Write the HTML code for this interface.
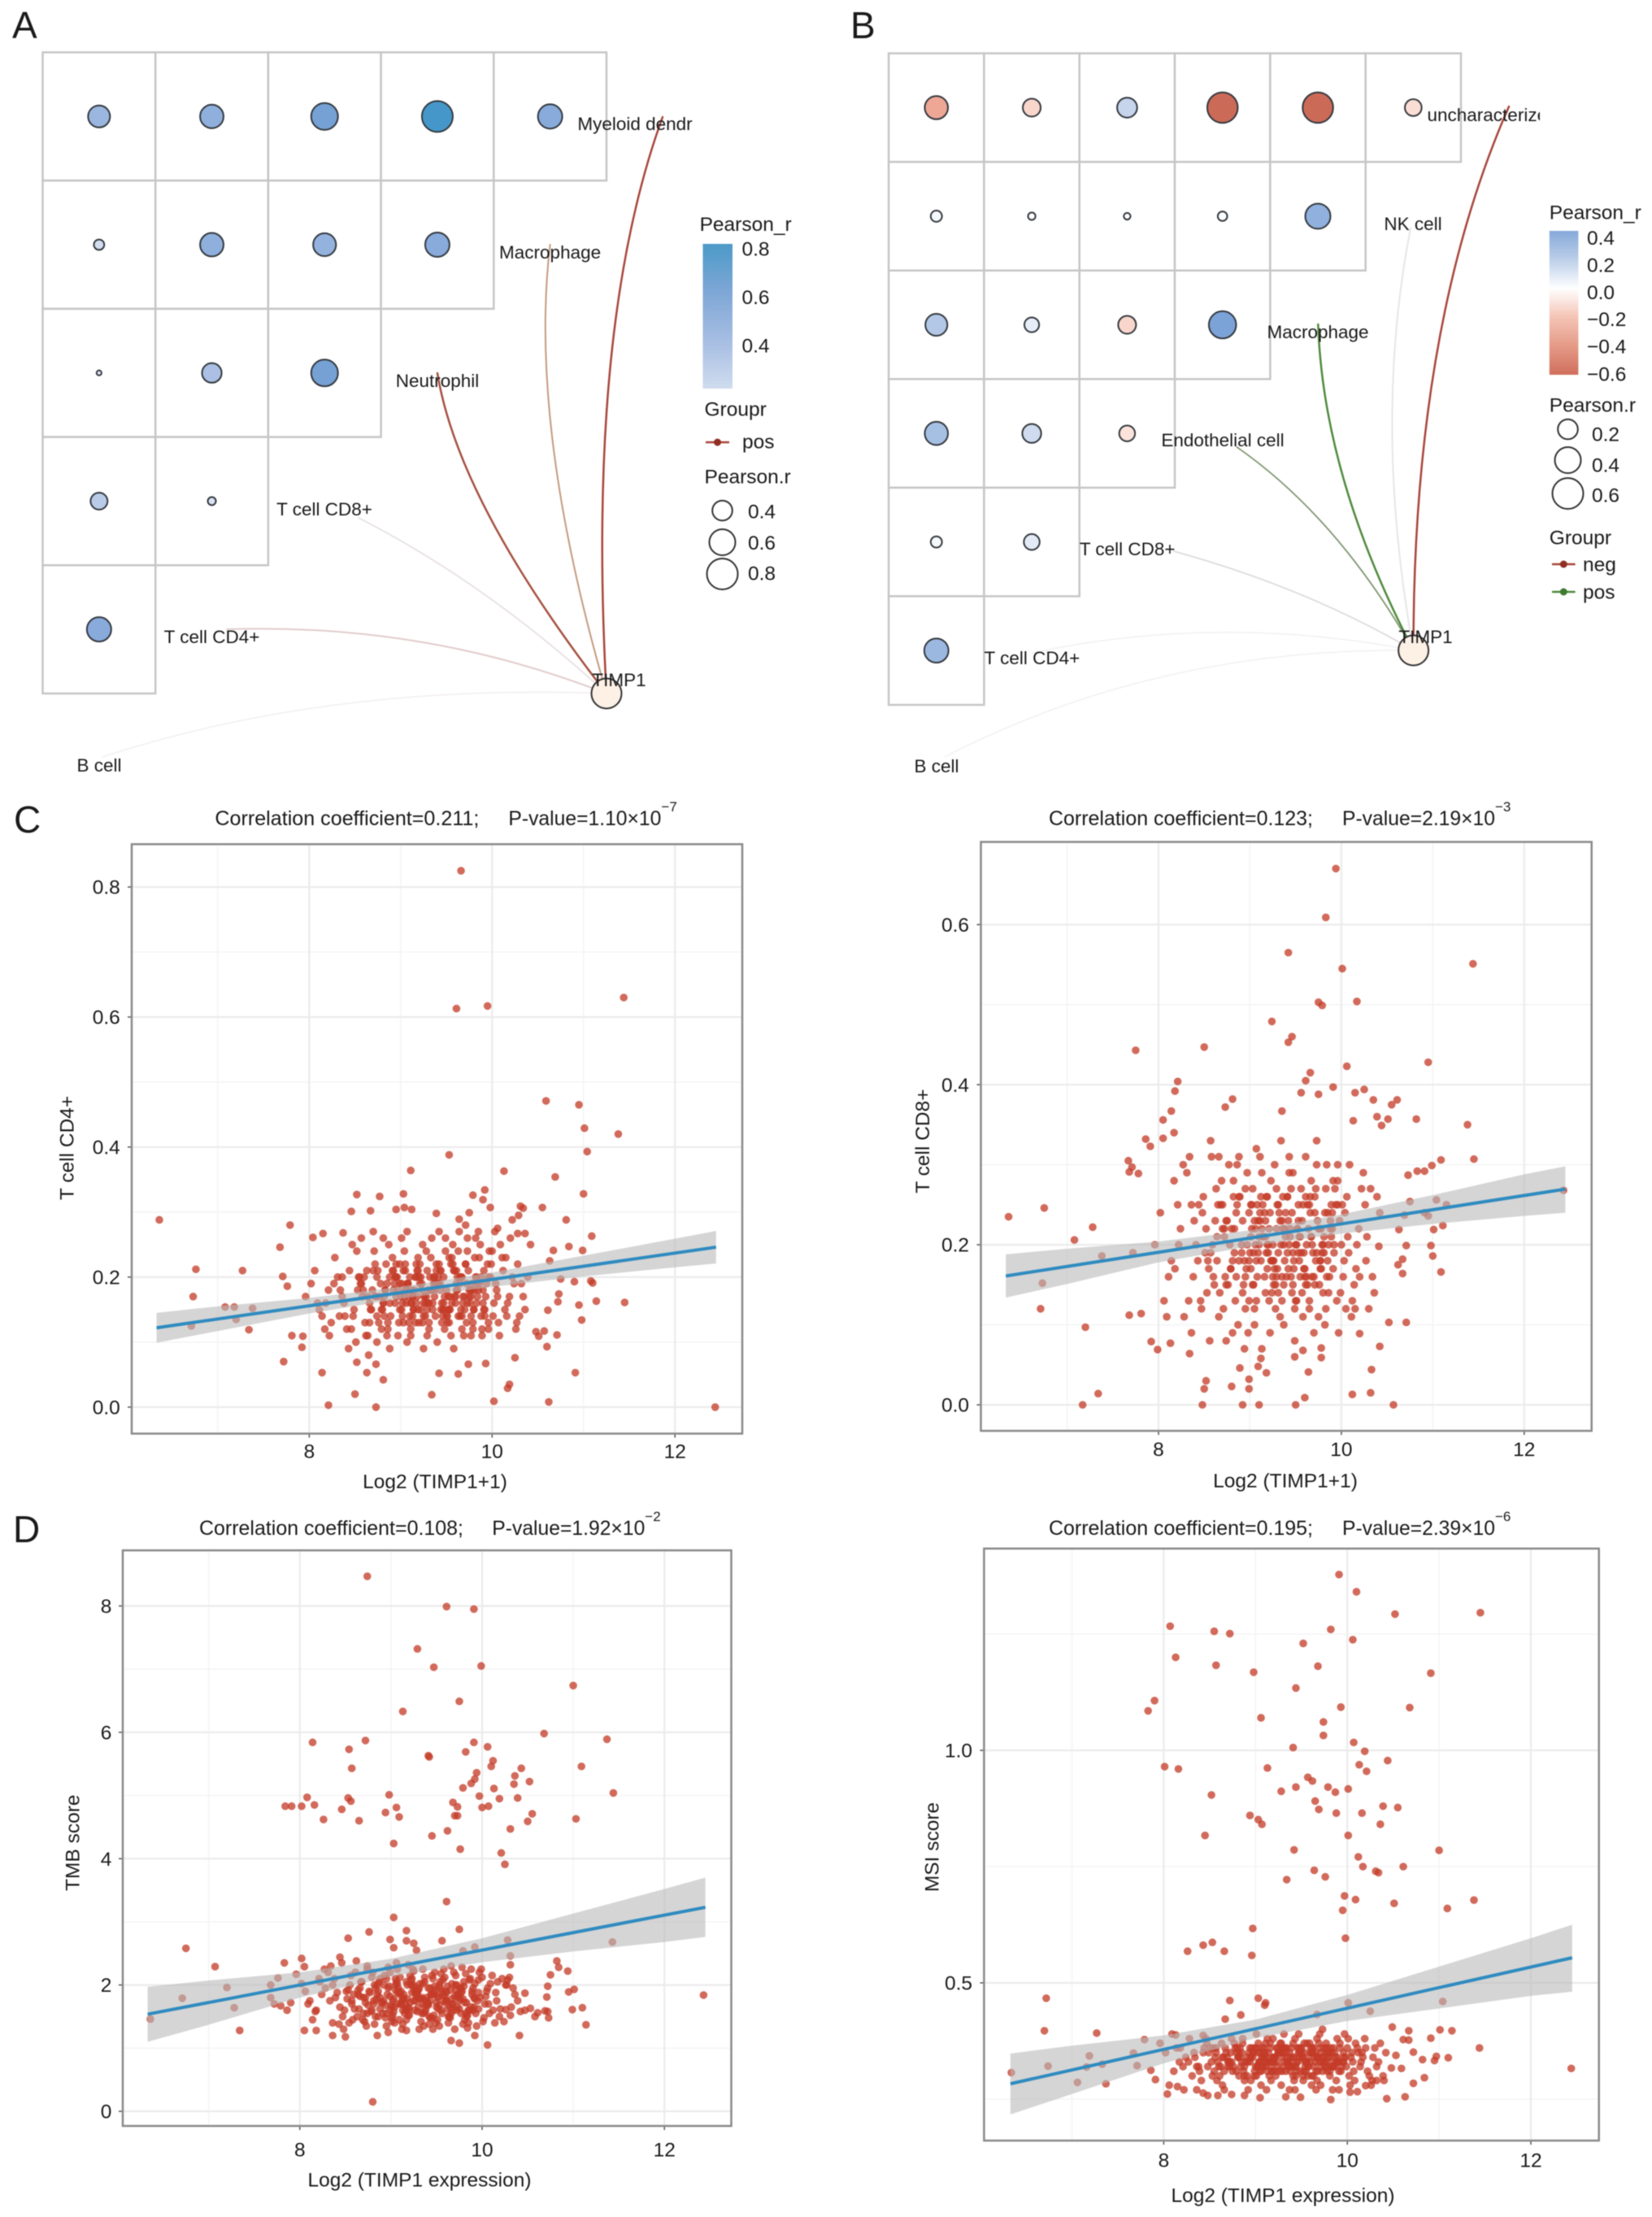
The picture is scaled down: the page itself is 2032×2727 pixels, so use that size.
<!DOCTYPE html>
<html lang="en">
<head>
<meta charset="utf-8">
<title>TIMP1 immune correlation figure</title>
<style>
html,body{margin:0;padding:0;background:#fff;width:2032px;height:2727px;overflow:hidden}
svg{display:block;filter:blur(.5px)}
text{font-family:"Liberation Sans",Arial,sans-serif;fill:#1a1a1a}
</style>
</head>
<body>
<svg id="figure" xmlns="http://www.w3.org/2000/svg" width="2032" height="2727" viewBox="0 0 2032 2727">
<defs>
<linearGradient id="gradA" x1="0" y1="0" x2="0" y2="1"><stop offset="0" stop-color="#4c9ac8"/><stop offset=".33" stop-color="#7ea7d6"/><stop offset=".66" stop-color="#a5bde2"/><stop offset="1" stop-color="#cfdcef"/></linearGradient>
<linearGradient id="gradB" x1="0" y1="0" x2="0" y2="1"><stop offset="0" stop-color="#86a9d9"/><stop offset=".2" stop-color="#bccfe9"/><stop offset=".4" stop-color="#ffffff"/><stop offset=".6" stop-color="#f4c4b5"/><stop offset=".8" stop-color="#e59a87"/><stop offset="1" stop-color="#d06f5d"/></linearGradient>
<clipPath id="clipB"><rect x="1016" y="0" width="878" height="980"/></clipPath>
</defs>
<rect width="2032" height="2727" fill="#fff"/>
<g font-size="46">
<text x="15" y="47">A</text>
<text x="1046" y="47">B</text>
<text x="17" y="1024">C</text>
<text x="16" y="1897">D</text>
</g>
<g id="linksA" fill="none" stroke-linecap="round">
<path d="M746 853Q406 840 126 931" stroke="#f3eeee" stroke-width="1.5"/>
<path d="M746 853Q524 766 279 774" stroke="#e3cccc" stroke-width="2"/>
<path d="M746 853Q598 717 441 637" stroke="#e8e0e2" stroke-width="1.8"/>
<path d="M746 853Q564 618 538 459" stroke="#a5503f" stroke-width="2.5"/>
<path d="M746 853Q650 523 676.6 301" stroke="#c49a7e" stroke-width="2"/>
<path d="M746 853Q721 402 815 144" stroke="#a8453a" stroke-width="2.5"/>
</g>
<g id="linksB" fill="none" stroke-linecap="round">
<path d="M1738.6 800Q1424 796 1162 931" stroke="#f1f1f1" stroke-width="1.5"/>
<path d="M1738.6 800Q1500 754 1269.4 803" stroke="#f1f1f1" stroke-width="1.5"/>
<path d="M1738.6 800Q1607 723 1443.7 678" stroke="#dcdcdc" stroke-width="1.8"/>
<path d="M1738.6 800Q1646 637 1521.5 550" stroke="#7f9670" stroke-width="1.8"/>
<path d="M1738.6 800Q1688 521 1735 281" stroke="#e6e6e6" stroke-width="2"/>
<path d="M1738.6 800Q1628 588 1621.3 399" stroke="#4e8a3c" stroke-width="2.5"/>
<path d="M1738.6 800Q1738 400 1856 131" stroke="#a8453a" stroke-width="2.5"/>
</g>
<g id="panelA"></g>
<g id="panelB"></g>
<g id="charts"></g>
<g font-size="24.5" dy=".35em">
<text x="781" y="152" dy=".35em" text-anchor="middle" font-size="22.5">Myeloid dendr</text>
<text x="676.6" y="310" dy=".35em" text-anchor="middle" font-size="22.5">Macrophage</text>
<text x="538" y="468" dy=".35em" text-anchor="middle" font-size="22.5">Neutrophil</text>
<text x="399" y="626" dy=".35em" text-anchor="middle" font-size="22.5">T cell CD8+</text>
<text x="260.5" y="783" dy=".35em" text-anchor="middle" font-size="22.5">T cell CD4+</text>
<text x="122" y="941" dy=".35em" text-anchor="middle" font-size="22.5">B cell</text>
<circle cx="746" cy="853" r="18.5" fill="#fdf1e6" stroke="#333" stroke-width="2"/>
<text x="761.5" y="836" dy=".35em" text-anchor="middle" font-size="22.5">TIMP1</text>
<g clip-path="url(#clipB)">
<text x="1755.5" y="141" dy=".35em" font-size="22.5">uncharacterized</text>
</g>
<text x="1738" y="275" dy=".35em" text-anchor="middle" font-size="22.5">NK cell</text>
<text x="1621" y="408" dy=".35em" text-anchor="middle" font-size="22.5">Macrophage</text>
<text x="1504" y="541" dy=".35em" text-anchor="middle" font-size="22.5">Endothelial cell</text>
<text x="1386.7" y="675" dy=".35em" text-anchor="middle" font-size="22.5">T cell CD8+</text>
<text x="1269.4" y="809" dy=".35em" text-anchor="middle" font-size="22.5">T cell CD4+</text>
<text x="1152" y="942" dy=".35em" text-anchor="middle" font-size="22.5">B cell</text>
<circle cx="1738.6" cy="800" r="18.5" fill="#fdf1e6" stroke="#333" stroke-width="2"/>
<text x="1753.5" y="783" dy=".35em" text-anchor="middle" font-size="22.5">TIMP1</text>
</g>
<g id="legendA" font-size="24.5">
<text x="860.6" y="275.6" dy=".35em">Pearson_r</text>
<rect x="864.5" y="300" width="36.5" height="178" fill="url(#gradA)"/>
<text x="912.5" y="306" dy=".35em">0.8</text>
<text x="912.5" y="365.6" dy=".35em">0.6</text>
<text x="912.5" y="425" dy=".35em">0.4</text>
<text x="866.5" y="503" dy=".35em">Groupr</text>
<line x1="868" y1="544" x2="897" y2="544" stroke="#a8453a" stroke-width="2.5"/>
<circle cx="882.5" cy="544" r="4.5" fill="#8f2f22"/>
<text x="913" y="543" dy=".35em">pos</text>
<text x="866.5" y="586" dy=".35em">Pearson.r</text>
<circle cx="888.5" cy="628" r="12.3" fill="#fff" stroke="#333" stroke-width="2"/>
<circle cx="888.5" cy="667" r="16" fill="#fff" stroke="#333" stroke-width="2"/>
<circle cx="888.5" cy="706" r="19" fill="#fff" stroke="#333" stroke-width="2"/>
<text x="920" y="629" dy=".35em">0.4</text>
<text x="920" y="667.5" dy=".35em">0.6</text>
<text x="920" y="705" dy=".35em">0.8</text>
</g>
<g id="legendB" font-size="24.5">
<text x="1905.8" y="261" dy=".35em">Pearson_r</text>
<rect x="1905.8" y="284" width="35.6" height="177" fill="url(#gradB)"/>
<text x="1952" y="292.5" dy=".35em">0.4</text>
<text x="1952" y="326" dy=".35em">0.2</text>
<text x="1952" y="359.4" dy=".35em">0.0</text>
<text x="1952" y="392.5" dy=".35em">−0.2</text>
<text x="1952" y="426" dy=".35em">−0.4</text>
<text x="1952" y="460" dy=".35em">−0.6</text>
<text x="1905.8" y="498" dy=".35em">Pearson.r</text>
<circle cx="1928.5" cy="528" r="12.3" fill="#fff" stroke="#333" stroke-width="2"/>
<circle cx="1928.5" cy="566" r="16" fill="#fff" stroke="#333" stroke-width="2"/>
<circle cx="1928.5" cy="607" r="19" fill="#fff" stroke="#333" stroke-width="2"/>
<text x="1958" y="534" dy=".35em">0.2</text>
<text x="1958" y="572" dy=".35em">0.4</text>
<text x="1958" y="609" dy=".35em">0.6</text>
<text x="1905.8" y="661" dy=".35em">Groupr</text>
<line x1="1909" y1="694" x2="1937.6" y2="694" stroke="#a8453a" stroke-width="2.5"/>
<circle cx="1923.3" cy="694" r="4.5" fill="#8f2f22"/>
<text x="1947" y="694" dy=".35em">neg</text>
<line x1="1909" y1="728" x2="1937.6" y2="728" stroke="#4e8a3c" stroke-width="2.5"/>
<circle cx="1923.3" cy="728" r="4.5" fill="#3f7a2f"/>
<text x="1947" y="728" dy=".35em">pos</text>
</g>
</svg>
<script>
// ---------- correlogram values ----------
const correlogramARows = [
  [.46,.51,.63,.80,.54],
  [.19,.51,.49,.54],
  [.13,.39,.63],
  [.32,.16],
  [.54]
];
const correlogramBRows = [
  [-.30,-.145,.2,-.6,-.6,-.12],
  [.03,.003,.001,.014,.37],
  [.26,.08,-.145,.455],
  [.30,.17,-.1],
  [.03,.1],
  [.335]
];
// ---------- shared x axis ticks ----------
const expressionTicks = [8,10,12];
const expressionMinorTicks = [7,9,11];
const cd4Ticks = [0,.2,.4,.6,.8];
const cd4MinorTicks = [.1,.3,.5,.7];
const cd8Ticks = [0,.2,.4,.6];
const cd8MinorTicks = [.1,.3,.5];
const tmbTicks = [0,2,4,6,8];
const tmbMinorTicks = [1,3,5,7];
const msiTicks = [.5,1];
const msiMinorTicks = [.25,.75,1.25];
// ---------- main-cloud TIMP1 expression, shared by the four scatter panels ----------
const coreExpression = [
8.02,8.11,7.96,8.17,8.06,8.14,8.21,8.09,
8.24,8.31,8.18,8.28,8.36,8.22,8.33,8.27,
8.38,8.44,8.41,8.34,8.47,8.39,8.43,8.36,
8.49,8.55,8.52,8.46,8.58,8.51,8.56,8.48,
8.59,8.63,8.61,8.57,8.66,8.62,8.54,8.65,
8.67,8.72,8.69,8.64,8.74,8.7,8.66,8.73,
8.75,8.79,8.77,8.71,8.82,8.78,8.74,8.81,
8.83,8.86,8.84,8.8,8.88,8.85,8.82,8.87,
8.89,8.93,8.91,8.86,8.95,8.92,8.88,8.94,
8.96,8.99,8.97,8.92,9.01,8.98,8.95,9.0,
9.02,9.05,9.03,8.99,9.07,9.04,9.01,9.06,
9.08,9.11,9.09,9.05,9.13,9.1,9.07,9.12,
9.14,9.17,9.15,9.11,9.19,9.16,9.13,9.18,
9.2,9.23,9.21,9.17,9.25,9.22,9.19,9.24,
9.26,9.29,9.27,9.23,9.31,9.28,9.25,9.3,
9.32,9.35,9.33,9.29,9.37,9.34,9.31,9.36,
9.38,9.41,9.39,9.35,9.43,9.4,9.37,9.42,
9.44,9.47,9.45,9.41,9.49,9.46,9.43,9.48,
9.5,9.53,9.51,9.47,9.55,9.52,9.49,9.54,
9.56,9.59,9.57,9.53,9.61,9.58,9.55,9.6,
9.62,9.65,9.63,9.59,9.67,9.64,9.61,9.66,
9.68,9.71,9.69,9.65,9.73,9.7,9.67,9.72,
9.74,9.77,9.75,9.71,9.79,9.76,9.73,9.78,
9.8,9.83,9.81,9.77,9.85,9.82,9.79,9.84,
9.86,9.89,9.87,9.83,9.91,9.88,9.85,9.9,
9.92,9.95,9.93,9.89,9.97,9.94,9.91,9.96,
9.98,10.02,10.0,9.96,10.05,10.01,9.99,10.03,
10.06,10.11,10.08,10.04,10.14,10.09,10.07,10.12,
10.16,10.22,10.19,10.15,10.26,10.2,10.17,10.24,
10.28,10.36,10.32,10.27,10.42,10.34,10.3,10.39,
8.72,8.79,8.85,8.91,8.76,8.83,8.88,8.94,
8.97,9.02,8.95,9.06,8.99,9.04,9.09,9.01,
9.11,9.07,9.14,9.03,9.18,9.1,9.16,9.05,
9.2,9.13,9.24,9.08,9.27,9.17,9.22,9.12,
9.29,9.19,9.33,9.25,9.36,9.28,9.21,9.31,
9.38,9.3,9.42,9.34,9.46,9.39,9.26,9.44,
9.48,9.37,9.52,9.41,9.56,9.45,9.35,9.5,
9.58,9.47,9.62,9.54,9.66,9.51,9.43,9.6,
9.68,9.57,9.72,9.63,9.76,9.65,9.53,9.7,
9.78,9.67,9.82,9.73,9.86,9.75,9.61,9.8,
9.88,9.77,9.92,9.84,9.96,9.81,9.71,9.9,
8.64,8.6,8.68,8.57,8.74,8.53,8.81,8.7];
// ---------- panel C left: T cell CD4+ ----------
const cd4CoreValues = [
.19,.15,.17,.12,.21,.14,.18,.16,
.13,.2,.16,.23,.17,.11,.14,.19,
.16,.21,.12,.18,.25,.14,.09,.2,
.15,.2,.24,.12,.17,.1,.19,.14,
.18,.21,.13,.26,.16,.11,.2,.08,
.15,.22,.18,.11,.2,.27,.13,.17,
.21,.12,.17,.24,.14,.19,.1,.16,
.18,.13,.22,.15,.2,.11,.17,.25,
.14,.19,.23,.12,.17,.21,.09,.16,
.2,.15,.11,.18,.26,.13,.22,.17,
.16,.21,.13,.19,.1,.24,.15,.18,
.19,.12,.17,.22,.14,.2,.27,.16,
.15,.2,.18,.11,.23,.13,.17,.21,
.13,.18,.22,.16,.09,.2,.15,.25,
.17,.21,.14,.19,.12,.24,.16,.18,
.2,.15,.23,.11,.17,.26,.13,.19,
.14,.19,.22,.16,.21,.1,.18,.27,
.21,.16,.13,.2,.24,.15,.18,.12,
.18,.23,.14,.2,.11,.17,.26,.15,
.16,.21,.25,.13,.19,.09,.22,.17,
.2,.14,.24,.17,.12,.27,.18,.15,
.17,.22,.11,.19,.26,.15,.2,.13,
.21,.14,.18,.28,.12,.16,.24,.19,
.15,.2,.23,.11,.18,.26,.13,.17,
.19,.12,.25,.16,.21,.14,.27,.18,
.14,.22,.17,.11,.24,.19,.15,.2,
.2,.16,.24,.12,.18,.14,.22,.27,
.17,.23,.11,.19,.15,.25,.13,.21,
.14,.2,.17,.23,.12,.26,.16,.19,
.22,.15,.19,.13,.25,.17,.14,.2,
.17,.15,.19,.21,.13,.18,.16,.2,
.18,.14,.2,.16,.22,.17,.13,.19,
.16,.19,.15,.21,.17,.14,.2,.18,
.2,.17,.13,.19,.16,.22,.15,.18,
.15,.21,.18,.14,.2,.17,.19,.16,
.19,.16,.22,.18,.14,.21,.17,.15,
.17,.2,.15,.19,.23,.16,.18,.14,
.21,.15,.18,.17,.2,.13,.19,.16,
.16,.22,.19,.14,.18,.2,.15,.17,
.18,.14,.2,.16,.23,.17,.21,.15,
.2,.17,.15,.19,.13,.18,.22,.16,
.17,.2,.15,.19,.14,.18,.16,.21];
const cd4OuterX = [9.66,9.61,9.95,11.44,10.59,10.95,11.01,11.38,11.04,9.53,9.11,10.13,10.69,8.52,8.77,9.03,9.79,9.92,9.9,11.0,6.36,7.79,8.46,8.67,8.95,9.04,9.12,9.39,9.64,9.75,9.98,10.31,10.34,10.55,10.81,6.76,7.27,6.73,7.08,7.18,7.38,7.2,6.71,7.34,7.68,8.04,8.15,8.37,8.81,7.71,7.76,7.72,7.93,7.81,7.92,8.14,8.21,8.73,8.5,8.81,8.63,8.73,8.52,9.34,9.42,9.63,9.74,9.93,10.02,10.19,10.17,10.25,10.62,10.91,12.44,11.45,11.14,10.98,10.95,11.1,11.08,10.9,11.09,10.84,10.99,10.67,10.63,10.75,10.73,10.72,10.61,10.71,10.6,10.57,10.48,10.51,10.36,10.28,10.22,10.29,10.06];
const cd4OuterY = [.825,.613,.617,.63,.471,.465,.429,.42,.393,.388,.364,.363,.354,.327,.324,.328,.326,.334,.319,.328,.288,.28,.301,.302,.304,.307,.304,.298,.289,.299,.307,.309,.306,.307,.288,.212,.21,.17,.154,.154,.152,.135,.125,.119,.246,.261,.267,.268,.26,.201,.186,.07,.109,.11,.092,.053,.003,0,.02,.042,.053,.066,.069,.019,.052,.051,.066,.067,.009,.035,.029,.076,.008,.053,0,.161,.163,.134,.157,.191,.194,.193,.263,.247,.241,.241,.225,.197,.174,.162,.149,.111,.093,.117,.116,.109,.267,.267,.288,.295,.275];
const cd4BandX = [6.33,7,8,9,10,11,12,12.45];
const cd4BandUpper = [.145,.155,.168,.185,.207,.233,.259,.271];
const cd4BandLower = [.099,.117,.144,.167,.185,.201,.215,.221];
const cd4FitX = [6.33,12.45];
const cd4FitY = [.122,.246];
// ---------- panel C right: T cell CD8+ ----------
const cd8CoreValues = [
.24,.16,.2,.28,.13,.18,.25,.11,
.22,.29,.17,.11,.25,.2,.13,.3,
.16,.25,.2,.31,.12,.23,.18,.09,
.26,.17,.22,.13,.31,.19,.08,.24,
.2,.27,.15,.33,.11,.23,.18,.25,
.14,.22,.28,.18,.08,.25,.31,.16,
.23,.17,.3,.12,.26,.2,.15,.09,
.19,.25,.13,.22,.31,.16,.28,.1,
.26,.15,.2,.3,.12,.23,.18,.07,
.17,.24,.29,.14,.21,.09,.27,.19,
.22,.12,.27,.18,.32,.15,.25,.2,
.16,.23,.19,.1,.29,.21,.13,.26,
.25,.14,.21,.31,.17,.24,.07,.19,
.2,.28,.13,.23,.16,.09,.26,.18,
.15,.22,.3,.18,.25,.12,.2,.17,
.24,.16,.11,.27,.2,.33,.14,.22,
.18,.26,.21,.13,.29,.16,.1,.23,
.22,.15,.27,.19,.12,.24,.31,.17,
.13,.25,.2,.29,.16,.22,.08,.18,
.27,.19,.14,.23,.31,.11,.21,.16,
.2,.12,.25,.17,.28,.22,.15,.26,
.16,.24,.19,.13,.3,.09,.21,.27,
.23,.18,.11,.26,.2,.15,.33,.22,
.14,.27,.21,.17,.24,.1,.19,.3,
.2,.25,.16,.12,.28,.22,.18,.24,
.19,.13,.27,.21,.09,.25,.17,.3,
.23,.16,.2,.28,.12,.25,.14,.18,
.26,.11,.19,.24,.15,.3,.21,.13,
.17,.27,.22,.12,.25,.16,.2,.29,
.21,.14,.27,.18,.24,.16,.12,.26,
.21,.17,.24,.19,.15,.22,.26,.18,
.2,.25,.16,.22,.13,.19,.23,.17,
.24,.18,.21,.15,.26,.2,.16,.23,
.19,.22,.14,.25,.17,.21,.24,.18,
.16,.2,.23,.18,.26,.15,.22,.19,
.22,.25,.17,.2,.14,.24,.18,.21,
.18,.15,.22,.26,.19,.16,.23,.2,
.25,.19,.16,.21,.24,.13,.2,.17,
.2,.23,.18,.15,.22,.25,.19,.16,
.17,.21,.24,.19,.14,.22,.26,.2,
.23,.18,.2,.16,.25,.19,.15,.22,
.21,.16,.25,.19,.23,.14,.18,.22];
const cd8OuterX = [9.94,9.83,9.42,10.01,11.44,9.75,9.79,10.17,9.24,9.46,9.42,8.5,7.75,10.95,10.06,9.66,9.61,8.21,8.18,9.75,9.91,9.56,10.15,10.25,10.35,10.61,8.81,8.73,8.14,9.35,10.55,10.82,10.39,10.51,10.13,10.44,11.38,8.05,7.86,8.05,8.17,7.91,7.67,7.71,7.68,7.78,11.45,11.09,10.99,10.91,10.83,10.73,6.36,6.75,7.28,7.08,7.38,7.72,6.73,6.71,7.2,7.34,7.17,7.68,7.81,7.92,7.99,8.13,8.34,8.48,8.5,8.52,8.8,8.92,9.1,8.99,8.99,8.89,9.12,9.09,9.18,9.5,9.6,9.64,9.49,9.58,9.78,9.78,10.12,10.32,10.57,10.33,10.42,10.2,10.52,10.71,11.09,11.0,10.98,11.01,11.11,10.95,10.91,11.15,11.04,12.43,10.71,10.67,10.62,10.67,10.41,10.63,10.75,10.69];
const cd8OuterY = [.67,.609,.565,.545,.551,.503,.499,.504,.479,.46,.453,.447,.443,.428,.423,.415,.405,.404,.392,.388,.397,.39,.39,.394,.381,.381,.382,.372,.367,.367,.375,.357,.36,.357,.355,.349,.35,.356,.332,.333,.34,.323,.305,.297,.291,.289,.307,.306,.299,.292,.292,.287,.235,.246,.222,.206,.186,.19,.152,.12,.097,.014,0,.112,.114,.079,.069,.077,.064,0,.02,.03,.023,0,0,.032,.02,.046,.058,.048,.04,0,.009,.041,.06,.068,.071,.059,.013,.015,0,.044,.073,.089,.103,.103,.166,.186,.199,.219,.224,.236,.24,.25,.256,.268,.199,.182,.175,.164,.198,.219,.254,.237];
const cd8BandX = [6.33,7,8,9,10,11,12,12.45];
const cd8BandUpper = [.188,.195,.204,.218,.238,.262,.288,.298];
const cd8BandLower = [.134,.151,.178,.198,.214,.226,.236,.24];
const cd8FitX = [6.33,12.45];
const cd8FitY = [.161,.2695];
// ---------- panel D left: TMB score ----------
const tmbCoreValues = [
2.02,1.75,2.17,1.58,1.9,1.45,2.1,1.7,
1.85,2.2,1.6,1.95,1.4,2.05,1.75,2.25,
2.1,1.65,1.88,2.3,1.5,1.8,1.38,2.0,
1.6,2.0,1.78,2.35,1.45,1.9,2.15,1.3,
1.85,1.5,2.2,1.7,1.95,2.38,1.4,1.62,
2.05,1.72,1.45,1.92,2.25,1.55,1.82,1.35,
1.68,2.12,1.88,1.42,2.0,1.58,2.3,1.75,
1.95,1.5,1.78,2.2,1.62,1.85,1.38,2.05,
1.72,2.15,1.55,1.9,1.35,2.0,1.8,1.48,
1.85,1.6,2.28,1.75,1.42,1.98,2.1,1.68,
1.52,2.0,1.78,2.2,1.88,1.4,1.65,2.35,
1.95,1.7,1.45,2.1,1.6,1.85,2.25,1.3,
1.78,2.05,1.55,1.9,2.32,1.68,1.38,2.0,
1.62,1.88,2.15,1.45,1.75,2.0,1.52,2.25,
1.9,1.58,1.75,2.1,1.3,1.82,2.22,1.65,
2.02,1.7,1.42,1.88,2.12,1.55,1.78,1.35,
1.6,1.95,1.8,2.25,1.48,1.72,2.05,1.38,
1.85,1.52,2.15,1.68,1.92,1.3,1.75,2.2,
1.72,2.0,1.45,1.85,2.18,1.62,1.4,1.95,
1.55,1.82,2.08,1.35,1.75,2.25,1.6,1.9,
1.98,1.65,1.4,2.12,1.78,1.5,1.88,2.3,
1.7,1.92,2.2,1.48,1.82,1.3,2.02,1.6,
1.85,1.55,1.75,2.15,1.38,1.95,1.65,2.28,
2.05,1.72,1.45,1.88,1.6,2.18,1.78,1.32,
1.6,1.9,2.1,1.5,1.8,2.25,1.4,1.95,
2.02,1.75,1.55,1.85,2.2,1.35,1.65,2.08,
1.8,1.48,2.12,1.62,1.9,1.42,2.25,1.7,
1.95,2.15,1.55,1.82,1.4,2.02,1.7,1.6,
1.75,2.1,1.5,1.88,2.0,1.62,2.05,1.42,
2.08,1.85,1.65,2.0,1.58,1.95,2.12,1.75,
1.8,1.6,2.0,1.72,1.9,1.5,2.1,1.68,
1.95,1.75,1.55,2.05,1.82,1.65,1.88,1.48,
1.7,2.02,1.85,1.58,1.78,2.12,1.62,1.92,
1.52,1.8,1.98,1.7,1.88,1.6,2.08,1.75,
1.9,1.65,1.78,2.0,1.55,1.85,1.72,1.95,
1.68,1.92,1.5,1.8,2.1,1.75,1.6,1.85,
1.98,1.58,1.82,1.7,1.9,1.48,2.02,1.65,
1.75,1.88,1.62,2.05,1.55,1.8,1.95,1.72,
1.6,1.85,2.0,1.5,1.78,1.92,1.68,1.82,
1.9,1.7,1.55,1.85,2.08,1.62,1.75,1.98,
1.65,1.95,1.78,1.52,1.88,1.72,2.0,1.6,
1.85,1.62,2.05,1.75,1.55,1.92,1.7,1.8];
const tmbOuterX = [8.74,9.61,9.91,9.29,9.47,9.99,11.0,9.75,9.13,10.68,11.37,8.72,8.14,9.91,10.06,8.54,9.82,9.41,9.42,10.12,10.1,11.09,8.57,10.43,9.94,10.36,9.92,9.88,10.35,10.52,9.79,10.13,8.98,9.97,8.08,11.44,8.53,8.56,10.19,10.39,9.68,7.84,7.91,8.02,8.16,8.46,9.06,9.73,10.0,10.07,8.94,9.09,9.7,9.73,10.55,8.26,8.65,10.5,11.03,10.31,9.62,9.45,9.03,9.76,10.21,10.25,9.61,9.03,9.75,8.76,9.17,8.53,8.99,10.28,11.43,9.56,9.17,9.25,9.03,9.92,6.75,9.79,9.28,7.07,7.83,8.02,8.05,8.44,10.31,10.82,10.84,10.94,10.31,10.75,10.72,11.01,10.95,10.71,10.47,11.1,10.99,11.14,10.72,10.73,10.69,10.61,10.58,10.53,10.47,10.41,10.31,10.26,10.06,9.75,9.66,9.92,12.43,6.36,6.71,7.2,7.28,7.34,7.68,7.68,7.76,7.72,7.79,7.86,7.9,8.05,8.18,8.36,8.5,8.85,8.97,8.8,9.17];
const tmbOuterY = [8.47,7.99,7.95,7.32,7.03,7.05,6.74,6.49,6.33,5.98,5.89,5.87,5.84,5.84,5.77,5.73,5.69,5.63,5.61,5.55,5.46,5.46,5.43,5.43,5.36,5.31,5.26,5.19,5.18,5.22,5.12,5.11,5.01,4.99,4.97,5.04,4.96,4.91,4.95,4.96,4.89,4.83,4.83,4.83,4.85,4.78,4.81,4.82,4.81,4.83,4.73,4.66,4.68,4.68,4.71,4.62,4.6,4.59,4.63,4.47,4.44,4.36,4.24,4.15,4.09,3.91,3.32,3.07,2.88,2.84,2.86,2.74,2.72,2.71,2.68,2.7,2.7,2.66,2.59,2.6,2.58,2.54,2.55,2.29,2.35,2.42,2.29,2.44,2.46,2.38,2.28,2.22,2.32,2.16,1.98,1.93,1.89,1.81,1.87,1.64,1.61,1.37,1.58,1.48,1.59,1.56,1.5,1.63,1.6,1.2,1.52,1.61,1.05,1.08,1.12,1.2,1.84,1.46,1.79,1.96,1.64,1.28,2.0,1.8,2.11,1.7,1.67,1.6,1.72,1.28,1.28,1.2,1.18,1.2,1.25,.15,1.28];
const tmbBandX = [6.33,7,8,9,10,11,12,12.45];
const tmbBandUpper = [1.97,2.07,2.2,2.415,2.74,3.13,3.52,3.70];
const tmbBandLower = [1.10,1.37,1.8,2.135,2.36,2.53,2.68,2.76];
const tmbFitX = [6.33,12.45];
const tmbFitY = [1.537,3.23];
// ---------- panel D right: MSI score ----------
const msiCoreValues = [
.35,.31,.37,.33,.28,.36,.32,.39,
.34,.3,.36,.38,.32,.27,.35,.33,
.32,.36,.29,.34,.37,.31,.35,.27,
.35,.31,.33,.38,.29,.36,.34,.32,
.33,.37,.3,.35,.27,.32,.36,.34,
.36,.32,.34,.28,.38,.33,.31,.35,
.31,.35,.37,.33,.3,.36,.26,.34,
.34,.38,.32,.36,.29,.33,.35,.31,
.33,.35,.3,.37,.34,.27,.32,.36,
.36,.31,.34,.33,.39,.35,.29,.32,
.32,.35,.37,.3,.34,.33,.36,.28,
.34,.33,.36,.31,.38,.35,.32,.27,
.35,.32,.3,.37,.34,.36,.33,.31,
.33,.36,.34,.29,.35,.31,.38,.32,
.31,.34,.37,.33,.36,.28,.35,.32,
.36,.33,.35,.31,.27,.34,.39,.32,
.34,.3,.36,.33,.38,.32,.35,.29,
.32,.35,.33,.37,.31,.36,.27,.34,
.35,.31,.34,.39,.33,.29,.36,.32,
.33,.37,.32,.35,.28,.34,.31,.36,
.36,.34,.3,.33,.38,.32,.35,.27,
.31,.35,.37,.33,.34,.39,.29,.32,
.34,.32,.36,.28,.35,.33,.4,.31,
.35,.33,.3,.37,.32,.36,.34,.27,
.32,.38,.34,.35,.31,.29,.36,.33,
.36,.33,.31,.34,.39,.32,.27,.35,
.34,.3,.36,.33,.35,.38,.32,.28,
.33,.36,.29,.34,.32,.37,.31,.35,
.35,.31,.38,.33,.28,.36,.34,.3,
.34,.37,.32,.29,.35,.33,.36,.3,
.33,.31,.35,.34,.32,.36,.3,.33,
.35,.32,.34,.31,.36,.33,.35,.3,
.32,.36,.33,.35,.31,.34,.37,.33,
.34,.31,.36,.32,.35,.33,.3,.34,
.36,.33,.31,.35,.32,.37,.34,.33,
.31,.35,.34,.36,.33,.32,.35,.3,
.35,.33,.3,.34,.37,.31,.33,.36,
.32,.36,.35,.33,.31,.34,.32,.35,
.34,.3,.33,.36,.32,.35,.37,.33,
.36,.34,.32,.31,.35,.33,.3,.34,
.33,.35,.37,.32,.34,.31,.36,.33,
.34,.32,.35,.36,.33,.3,.34,.32];
const msiOuterX = [9.91,10.1,10.52,11.45,8.07,8.55,8.72,9.82,10.06,9.52,8.13,8.57,9.68,8.98,10.91,9.44,7.9,7.83,9.93,10.68,9.06,9.74,9.74,10.07,9.41,10.19,10.44,8.01,8.16,9.13,10.13,10.21,9.57,9.62,9.79,9.44,9.28,9.87,10.01,8.52,9.65,10.39,10.55,9.69,9.88,10.16,8.94,9.03,9.07,10.36,8.45,10.01,9.42,11.0,10.12,10.17,10.61,10.31,10.34,9.64,9.76,9.34,9.97,10.09,11.38,10.51,11.09,9.95,8.97,9.98,8.53,8.43,8.66,8.26,8.96,6.72,8.72,9.03,9.11,9.1,10.01,11.04,10.25,8.84,9.67,8.67,6.7,7.27,6.74,6.34,7.06,7.37,7.19,7.16,7.33,12.44,11.44,11.14,11.01,10.91,10.84,10.72,10.63,10.43,10.49,10.67,10.67,10.61,10.4,10.32,10.2,10.11,10.03,11.1,10.97,10.95,10.82,10.72,10.53,10.48,10.59,7.79,7.67,7.71,7.86,7.91,8.04,8.15,8.43,8.48,8.59,8.88,9.05,9.33,9.49,9.82,8.13,8.43];
const msiOuterY = [1.378,1.341,1.293,1.296,1.267,1.256,1.251,1.26,1.238,1.23,1.2,1.183,1.181,1.168,1.166,1.134,1.107,1.085,1.093,1.092,1.07,1.061,1.032,1.017,1.006,.998,.978,.965,.96,.962,.969,.955,.942,.934,.921,.921,.912,.91,.917,.904,.891,.88,.877,.873,.865,.865,.86,.851,.841,.841,.817,.817,.786,.785,.771,.75,.75,.74,.737,.742,.728,.722,.687,.679,.678,.671,.66,.656,.617,.596,.587,.581,.568,.568,.559,.467,.462,.467,.457,.452,.457,.46,.439,.431,.432,.422,.397,.392,.321,.307,.286,.283,.343,.319,.325,.316,.36,.397,.399,.381,.296,.284,.255,.251,.405,.397,.377,.378,.29,.29,.279,.266,.265,.339,.342,.333,.335,.351,.344,.317,.316,.378,.349,.322,.312,.292,.261,.277,.263,.258,.258,.258,.253,.255,.254,.249,.388,.387];
const msiBandX = [6.33,7,8,9,10,11,12,12.45];
const msiBandUpper = [.348,.365,.387,.421,.474,.535,.596,.625];
const msiBandLower = [.217,.261,.327,.381,.418,.445,.472,.481];
const msiFitX = [6.33,12.45];
const msiFitY = [.283,.554];

const SVG_NS = 'http://www.w3.org/2000/svg';
function make(tag, attrs, parent) {
  const el = document.createElementNS(SVG_NS, tag);
  for (const key in attrs) el.setAttribute(key, attrs[key]);
  parent.appendChild(el);
  return el;
}
function hexToRgb(h) {
  return [parseInt(h.slice(1,3),16), parseInt(h.slice(3,5),16), parseInt(h.slice(5,7),16)];
}
function ramp(stops, v) {
  if (v <= stops[0][0]) return stops[0][1];
  for (let i = 1; i < stops.length; i++) {
    if (v <= stops[i][0]) {
      const t = (v - stops[i-1][0]) / (stops[i][0] - stops[i-1][0]);
      const a = hexToRgb(stops[i-1][1]);
      const b = hexToRgb(stops[i][1]);
      return 'rgb(' + a.map((c, k) => Math.round(c + (b[k] - c) * t)).join(',') + ')';
    }
  }
  return stops[stops.length-1][1];
}
const colourStopsA = [[.13,'#dfe6f4'],[.4,'#a9bfe3'],[.55,'#86aadb'],[.63,'#76a1d4'],[.8,'#4597c9']];
const colourStopsBPos = [[0,'#ffffff'],[.2,'#c6d5ec'],[.4,'#86aadb'],[.46,'#7ba2d8']];
const colourStopsBNeg = [[0,'#ffffff'],[.15,'#f9d5c9'],[.3,'#eea695'],[.6,'#cc6a58']];
function radiusA(v) { return Math.sqrt(Math.max(525 * v - 59, 4)); }
function radiusB(v) { return 3.5 + 19.7 * Math.sqrt(Math.abs(v)); }
function fillA(v) { return ramp(colourStopsA, v); }
function fillB(v) { return v >= 0 ? ramp(colourStopsBPos, v) : ramp(colourStopsBNeg, -v); }

function drawCorrelogram(groupId, rows, left, right, top, bottom, radius, fill, stem) {
  const group = document.getElementById(groupId);
  const n = rows[0].length;
  const cw = (right - left) / n;
  const ch = (bottom - top) / rows.length;
  rows.forEach((row, r) => {
    row.forEach((value, c) => {
      const cell = make('rect', {x: left + c * cw, y: top + r * ch, width: cw, height: ch, fill: '#fff', stroke: '#c6c6c6', 'stroke-width': 2.5}, group);
      
      
    });
  });
  rows.forEach((row, r) => {
    row.forEach((value, c) => {
      const dot = make('circle', {cx: left + (c + .5) * cw, cy: top + (r + .5) * ch, r: radius(value), fill: fill(value), stroke: '#34393f', 'stroke-width': 2}, group);
      
      
    });
  });
}
drawCorrelogram('panelA', correlogramARows, 52.5, 746, 64.4, 853, radiusA, fillA, 'correlogram-a');
drawCorrelogram('panelB', correlogramBRows, 1093.1, 1797, 65.6, 867, radiusB, fillB, 'correlogram-b');

function drawScatter(cfg) {
  const root = document.getElementById('charts');
  const g = make('g', {}, root);
  
  
  const xScale = v => cfg.x8 + (v - 8) * cfg.xUnit;
  const yScale = v => cfg.yRefPx - (v - cfg.yRefVal) * cfg.yUnit;

  const frameBg = make('rect', {x: cfg.left, y: cfg.top, width: cfg.right - cfg.left, height: cfg.bottom - cfg.top, fill: '#fff'}, g);
  
  

  cfg.yMinor.forEach(v => {
    const line = make('line', {x1: cfg.left, x2: cfg.right, y1: yScale(v), y2: yScale(v), stroke: '#f4f4f4', 'stroke-width': 1.5}, g);
    
    
  });
  expressionMinorTicks.forEach(v => {
    const line = make('line', {x1: xScale(v), x2: xScale(v), y1: cfg.top, y2: cfg.bottom, stroke: '#f4f4f4', 'stroke-width': 1.5}, g);
    
    
  });
  cfg.yTicks.forEach(v => {
    const line = make('line', {x1: cfg.left, x2: cfg.right, y1: yScale(v), y2: yScale(v), stroke: '#ebebeb', 'stroke-width': 2.2}, g);
    
    
    const tick = make('line', {x1: cfg.left - 5, x2: cfg.left, y1: yScale(v), y2: yScale(v), stroke: '#555', 'stroke-width': 1.5}, g);
    
    
    const label = make('text', {x: cfg.tickRight, y: yScale(v), dy: '.35em', 'text-anchor': 'end', 'font-size': 24.5}, g);
    label.textContent = v.toFixed(cfg.yDigits);
    
    
  });
  expressionTicks.forEach(v => {
    const line = make('line', {x1: xScale(v), x2: xScale(v), y1: cfg.top, y2: cfg.bottom, stroke: '#ebebeb', 'stroke-width': 2.2}, g);
    
    
    const tick = make('line', {x1: xScale(v), x2: xScale(v), y1: cfg.bottom, y2: cfg.bottom + 5, stroke: '#555', 'stroke-width': 1.5}, g);
    
    
    const label = make('text', {x: xScale(v), y: cfg.tickLabelY, dy: '.35em', 'text-anchor': 'middle', 'font-size': 24.5}, g);
    label.textContent = String(v);
    
    
  });

  const allX = coreExpression.concat(cfg.outerX);
  const allY = cfg.coreY.concat(cfg.outerY);
  const count = Math.min(allX.length, allY.length);
  for (let i = 0; i < count; i++) {
    const dot = make('circle', {cx: xScale(allX[i]), cy: yScale(allY[i]), r: 4.8, fill: '#c43b28', 'fill-opacity': .76}, g);
    
    
  }

  let bandPath = '';
  cfg.bandX.forEach((v, i) => { bandPath += (i ? 'L' : 'M') + xScale(v) + ' ' + yScale(cfg.bandUpper[i]); });
  for (let i = cfg.bandX.length - 1; i >= 0; i--) bandPath += 'L' + xScale(cfg.bandX[i]) + ' ' + yScale(cfg.bandLower[i]);
  const band = make('path', {d: bandPath + 'Z', fill: '#b9b9b9', 'fill-opacity': .6}, g);
  
  

  const fit = make('line', {x1: xScale(cfg.fitX[0]), y1: yScale(cfg.fitY[0]), x2: xScale(cfg.fitX[1]), y2: yScale(cfg.fitY[1]), stroke: '#2f8bc0', 'stroke-width': 4}, g);
  
  

  const frame = make('rect', {x: cfg.left, y: cfg.top, width: cfg.right - cfg.left, height: cfg.bottom - cfg.top, fill: 'none', stroke: '#8a8a8a', 'stroke-width': 2.5}, g);
  
  

  const titleA = make('text', {x: cfg.titleX, y: cfg.titleY, dy: '.35em', 'font-size': 25, textLength: 325, lengthAdjust: 'spacingAndGlyphs'}, g);
  titleA.textContent = cfg.titleCorr;
  
  
  const titleB = make('text', {x: cfg.pX, y: cfg.titleY, dy: '.35em', 'font-size': 25, textLength: 188, lengthAdjust: 'spacingAndGlyphs'}, g);
  titleB.textContent = cfg.titleP;
  
  
  const titleExp = make('text', {x: cfg.pX + 188, y: cfg.titleY - 8, 'font-size': 17}, g);
  titleExp.textContent = cfg.titleExp;
  
  

  const xTitle = make('text', {x: cfg.xTitleX, y: cfg.xTitleY, dy: '.35em', 'text-anchor': 'middle', 'font-size': 24.5}, g);
  xTitle.textContent = cfg.xTitle;
  
  
  const yTitle = make('text', {x: 0, y: 0, dy: '.35em', 'text-anchor': 'middle', 'font-size': 24.5, transform: 'translate(' + cfg.yTitleX + ' ' + cfg.yTitleY + ') rotate(-90)'}, g);
  yTitle.textContent = cfg.yTitle;
  
  
}

drawScatter({stem:'cd4', left:162, right:913, top:1038.4, bottom:1763.4, x8:380.4, xUnit:112.45, yRefVal:0, yRefPx:1730.8, yUnit:799.7,
  yTicks:cd4Ticks, yMinor:cd4MinorTicks, yDigits:1, tickRight:147.8, tickLabelY:1785, coreY:cd4CoreValues, outerX:cd4OuterX, outerY:cd4OuterY,
  bandX:cd4BandX, bandUpper:cd4BandUpper, bandLower:cd4BandLower, fitX:cd4FitX, fitY:cd4FitY,
  titleX:264.4, pX:625.4, titleY:1006, titleCorr:'Correlation coefficient=0.211;', titleP:'P-value=1.10×10', titleExp:'−7',
  xTitle:'Log2 (TIMP1+1)', xTitleX:535, xTitleY:1822, yTitle:'T cell CD4+', yTitleX:82, yTitleY:1412});
drawScatter({stem:'cd8', left:1206.5, right:1957.7, top:1035.6, bottom:1760, x8:1425, xUnit:112.45, yRefVal:0, yRefPx:1728, yUnit:984.5,
  yTicks:cd8Ticks, yMinor:cd8MinorTicks, yDigits:1, tickRight:1192, tickLabelY:1782.5, coreY:cd8CoreValues, outerX:cd8OuterX, outerY:cd8OuterY,
  bandX:cd8BandX, bandUpper:cd8BandUpper, bandLower:cd8BandLower, fitX:cd8FitX, fitY:cd8FitY,
  titleX:1290, pX:1651, titleY:1006, titleCorr:'Correlation coefficient=0.123;', titleP:'P-value=2.19×10', titleExp:'−3',
  xTitle:'Log2 (TIMP1+1)', xTitleX:1581, xTitleY:1821, yTitle:'T cell CD8+', yTitleX:1134.6, yTitleY:1403.7});
drawScatter({stem:'tmb', left:151, right:899.5, top:1907, bottom:2615, x8:368.8, xUnit:112.1, yRefVal:0, yRefPx:2597, yUnit:77.7,
  yTicks:tmbTicks, yMinor:tmbMinorTicks, yDigits:0, tickRight:137.4, tickLabelY:2644, coreY:tmbCoreValues, outerX:tmbOuterX, outerY:tmbOuterY,
  bandX:tmbBandX, bandUpper:tmbBandUpper, bandLower:tmbBandLower, fitX:tmbFitX, fitY:tmbFitY,
  titleX:245, pX:605.3, titleY:1879, titleCorr:'Correlation coefficient=0.108;', titleP:'P-value=1.92×10', titleExp:'−2',
  xTitle:'Log2 (TIMP1 expression)', xTitleX:516, xTitleY:2681, yTitle:'TMB score', yTitleX:88.8, yTitleY:2266.7});
drawScatter({stem:'msi', left:1210.4, right:1966.7, top:1904.8, bottom:2633, x8:1431.4, xUnit:112.9, yRefVal:.5, yRefPx:2439, yUnit:572,
  yTicks:msiTicks, yMinor:msiMinorTicks, yDigits:1, tickRight:1196, tickLabelY:2657, coreY:msiCoreValues, outerX:msiOuterX, outerY:msiOuterY,
  bandX:msiBandX, bandUpper:msiBandUpper, bandLower:msiBandLower, fitX:msiFitX, fitY:msiFitY,
  titleX:1290, pX:1651, titleY:1879, titleCorr:'Correlation coefficient=0.195;', titleP:'P-value=2.39×10', titleExp:'−6',
  xTitle:'Log2 (TIMP1 expression)', xTitleX:1578, xTitleY:2700, yTitle:'MSI score', yTitleX:1146, yTitleY:2272});
</script>
</body>
</html>
